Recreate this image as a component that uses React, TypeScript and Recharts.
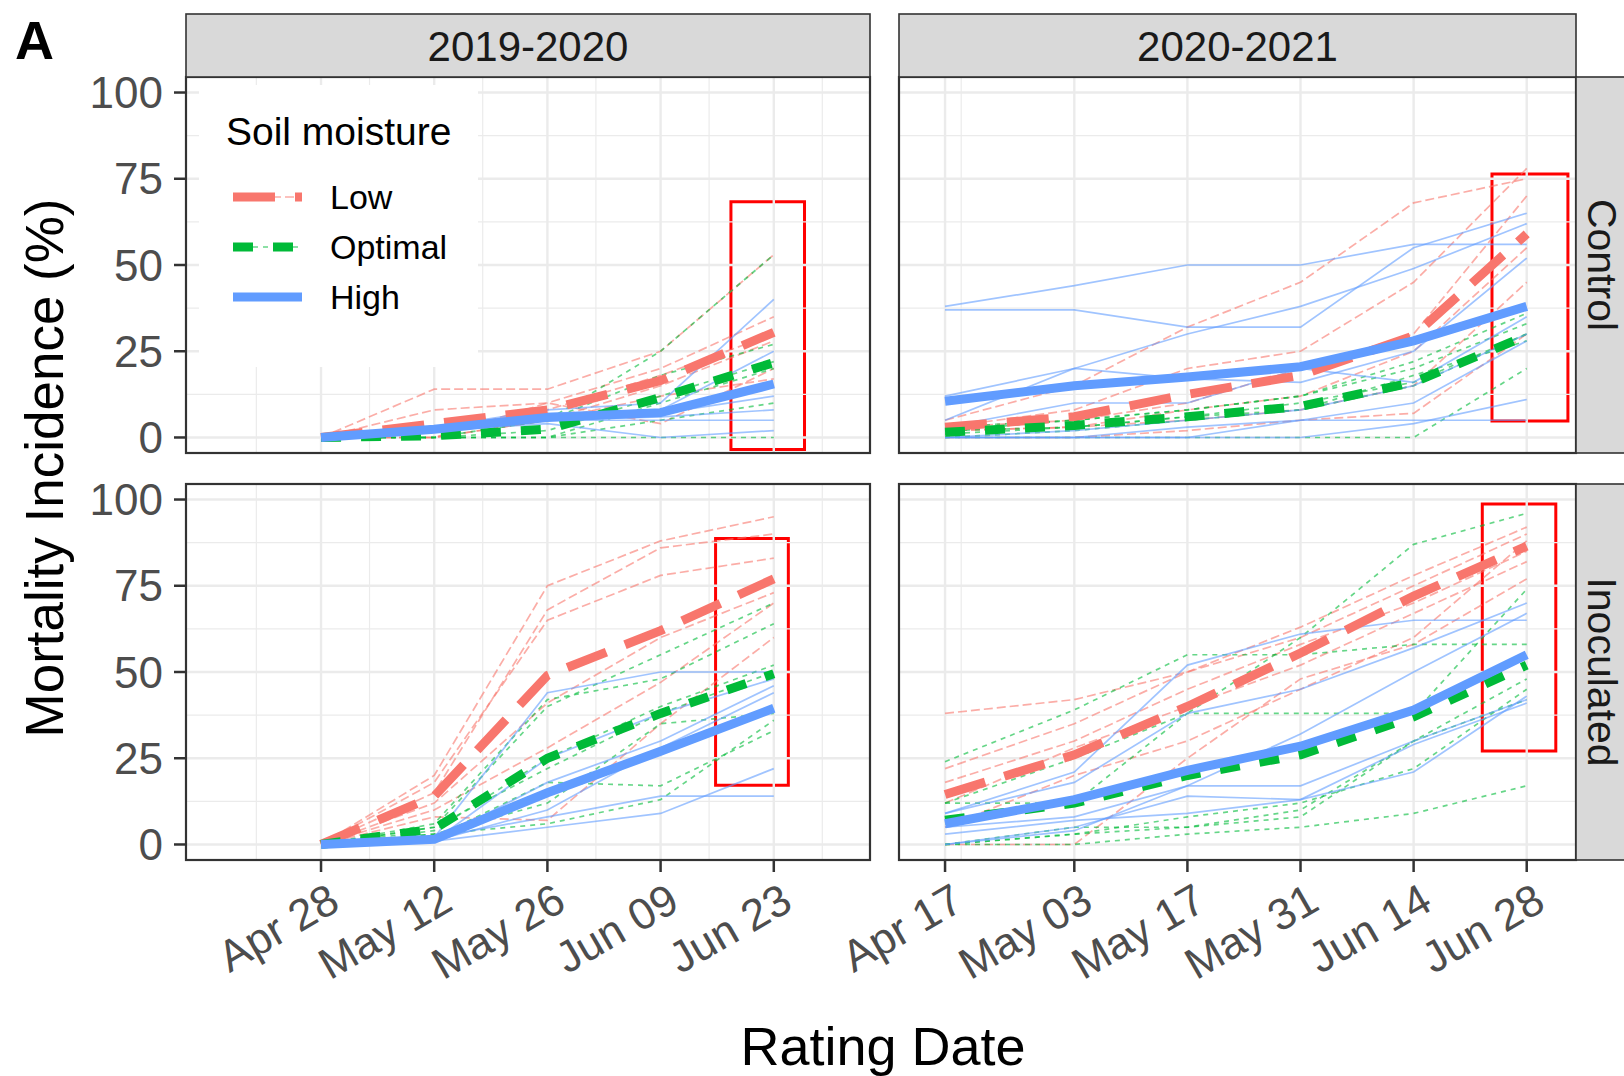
import React from 'react';
import { LineChart, Line, XAxis, YAxis, ReferenceLine, ReferenceArea } from 'recharts';

const FONT = '"Liberation Sans", Arial, Helvetica, sans-serif';

// rating dates, as days after the first rating of each season
const DAYS_1920 = [0, 14, 28, 42, 56];
const LABELS_1920 = ['Apr 28', 'May 12', 'May 26', 'Jun 09', 'Jun 23'];
const MINOR_1920 = [-8, 6, 20, 34, 48, 62];
const DAYS_2021 = [0, 16, 30, 44, 58, 72];
const LABELS_2021 = ['Apr 17', 'May 03', 'May 17', 'May 31', 'Jun 14', 'Jun 28'];
const MINOR_2021 = [2];

const SEASONS = ['2019-2020', '2020-2021'];
const TREATMENTS = ['Control', 'Inoculated'];
const MOISTURE = ['Low', 'Optimal', 'High'];
const Y_TICKS = [0, 25, 50, 75, 100];
const Y_MINOR = [12.5, 37.5, 62.5, 87.5];

// Control, 2019-2020 (one row per plot)
const C19_LOW = [
  [0, 14, 14, 25, 53],
  [0, 8, 10, 20, 35],
  [0, 2, 8, 18, 30],
  [0, 0, 5, 15, 28],
  [0, 0, 10, 4, 20],
  [0, 0, 5, 12, 17],
];
const C19_OPT = [
  [0, 0, 5, 25, 53],
  [0, 2, 5, 18, 27],
  [0, 0, 2, 12, 22],
  [0, 0, 0, 10, 20],
  [0, 0, 0, 5, 10],
  [0, 0, 0, 0, 0],
];
const C19_HIGH = [
  [0, 3, 8, 10, 40],
  [0, 3, 7, 8, 25],
  [0, 3, 6, 7, 12],
  [0, 2, 5, 6, 8],
  [0, 2, 5, 5, 5],
  [0, 2, 4, 0, 2],
];
const C19_MEAN_LOW = [0, 4, 8, 16.5, 30.5];
const C19_MEAN_OPT = [0, 0.5, 2.4, 11.6, 21.7];
const C19_MEAN_HIGH = [0, 2.4, 5.8, 7.2, 15.5];

// Control, 2020-2021
const C20_LOW = [
  [5, 15, 32, 45, 68, 75],
  [3, 8, 20, 25, 45, 78],
  [3, 5, 10, 20, 30, 70],
  [2, 3, 8, 12, 25, 55],
  [2, 3, 5, 8, 15, 45],
  [0, 0, 2, 5, 7, 30],
];
const C20_OPT = [
  [3, 5, 8, 12, 22, 36],
  [2, 5, 8, 12, 20, 33],
  [2, 3, 6, 10, 16, 30],
  [1, 3, 6, 8, 15, 30],
  [0, 2, 5, 8, 18, 28],
  [0, 0, 0, 0, 0, 20],
];
const C20_HIGH = [
  [38, 44, 50, 50, 56, 56],
  [37, 37, 32, 32, 55, 65],
  [12, 20, 30, 38, 49, 62],
  [5, 20, 17, 16, 25, 52],
  [3, 10, 10, 20, 16, 35],
  [0, 0, 0, 5, 5, 5],
  [0, 0, 0, 0, 4, 11],
  [0, 2, 5, 8, 15, 30],
  [0, 0, 3, 5, 10, 28],
];
const C20_MEAN_LOW = [3, 6, 12.5, 18, 29.5, 59];
const C20_MEAN_OPT = [1.5, 3.5, 6, 9, 16, 29.5];
const C20_MEAN_HIGH = [10.5, 15, 17.5, 20.5, 28, 38];

// Inoculated, 2019-2020
const I19_LOW = [
  [0, 20, 75, 88, 95],
  [0, 15, 68, 86, 90],
  [0, 18, 65, 78, 83],
  [0, 12, 41, 60, 73],
  [0, 10, 28, 47, 70],
  [0, 8, 7, 35, 60],
];
const I19_OPT = [
  [0, 5, 40, 55, 70],
  [0, 6, 42, 48, 64],
  [0, 4, 25, 40, 52],
  [0, 5, 22, 38, 50],
  [0, 3, 12, 35, 38],
  [0, 2, 18, 17, 33],
  [0, 3, 6, 13, 36],
];
const I19_HIGH = [
  [0, 2, 44, 50, 50],
  [0, 1, 25, 38, 48],
  [0, 1, 18, 30, 46],
  [0, 1, 10, 28, 44],
  [0, 2, 8, 14, 14],
  [0, 1, 5, 9, 22],
];
const I19_MEAN_LOW = [0, 14, 49, 62, 77];
const I19_MEAN_OPT = [0, 4.5, 25, 38, 49.5];
const I19_MEAN_HIGH = [0, 1.5, 15, 27, 39.5];

// Inoculated, 2020-2021
const I20_LOW = [
  [38, 42, 50, 60, 75, 90],
  [22, 35, 50, 63, 78, 92],
  [18, 30, 45, 58, 70, 85],
  [12, 28, 40, 52, 67, 82],
  [5, 20, 30, 45, 60, 88],
  [0, 0, 25, 48, 58, 77],
];
const I20_OPT = [
  [24, 39, 55, 55, 58, 58],
  [12, 25, 38, 60, 87, 96],
  [12, 12, 38, 38, 38, 74],
  [0, 5, 5, 8, 30, 48],
  [0, 3, 5, 10, 30, 42],
  [0, 0, 3, 5, 9, 17],
  [0, 3, 8, 12, 22, 45],
];
const I20_HIGH = [
  [9, 21, 52, 61, 65, 65],
  [9, 18, 38, 45, 57, 70],
  [0, 4, 17, 32, 50, 67],
  [5, 8, 17, 17, 30, 42],
  [0, 5, 14, 13, 21, 43],
  [3, 7, 9, 13, 29, 41],
];
const I20_MEAN_LOW = [14.5, 26, 40, 55.5, 72, 86.5];
const I20_MEAN_OPT = [7, 12, 20, 26, 37, 52];
const I20_MEAN_HIGH = [6, 13, 21.5, 28.5, 39, 55];

// highlighted final-rating windows: [day from, day to, % from, % to]
const BOX_C19 = [50.7, 59.8, -3.5, 68.3];
const BOX_C20 = [67.7, 77.1, 4.8, 76.4];
const BOX_I19 = [48.8, 57.8, 17.2, 88.7];
const BOX_I20 = [66.5, 75.6, 27.1, 98.7];

const STYLE: Record<string, { color: string; thick?: string; thin?: string }> = {
  low: { color: '#F8766D', thick: '42 20', thin: '9 4' },
  opt: { color: '#00BA38', thick: '20 20', thin: '5 5' },
  high: { color: '#619CFF' },
};

const GRID = '#EBEBEB';
const DARK = '#333333';
const TICK_FONT = 44;

// facet geometry
const COL_X = [186, 899];
const COL_W = [684, 677];
const ROW_Y = [77, 484];
const ROW_H = 376;
const STRIP_TOP = 14;
const PAD = 30; // room around each panel so tick labels are not clipped
const SIDE = 200; // room left of the right-hand panels for rotated labels
const X_AXIS_H = 150;
const Y_AXIS_W = 186;

const DateTick = ({ x, y, payload, days, labels }: any) => {
  const i = days.indexOf(payload.value);
  const ax = x + 5;
  return (
    <text
      x={ax}
      y={y}
      dy="0.72em"
      transform={`rotate(-30 ${ax} ${y})`}
      textAnchor="end"
      fill="#4D4D4D"
      fontSize={TICK_FONT}
      fontFamily={FONT}
    >
      {labels[i]}
    </text>
  );
};

interface PanelProps {
  col: number;
  row: number;
  days: number[];
  labels: string[];
  minor: number[];
  xDomain: number[];
  low: number[][];
  opt: number[][];
  high: number[][];
  meanLow: number[];
  meanOpt: number[];
  meanHigh: number[];
  box: number[];
}

const Panel = (p: PanelProps) => {
  const showY = p.col === 0;
  const showX = p.row === 1;
  const groups = [
    { key: 'low', reps: p.low, mean: p.meanLow },
    { key: 'opt', reps: p.opt, mean: p.meanOpt },
    { key: 'high', reps: p.high, mean: p.meanHigh },
  ];
  const rows = p.days.map((d, i) => {
    const r: Record<string, number> = { day: d };
    groups.forEach(g => {
      g.reps.forEach((s, j) => {
        r[g.key + j] = s[i];
      });
      r[g.key + 'Mean'] = g.mean[i];
    });
    return r;
  });

  const marginLeft = showY ? 0 : SIDE;
  const left = showY ? COL_X[0] - Y_AXIS_W : COL_X[1] - SIDE;
  const width = (showY ? Y_AXIS_W : SIDE) + COL_W[p.col] + PAD;
  const top = ROW_Y[p.row] - PAD;
  const height = PAD + ROW_H + (showX ? X_AXIS_H : PAD);

  return (
    <div style={{ position: 'absolute', left, top }}>
      <LineChart
        width={width}
        height={height}
        data={rows}
        margin={{ top: PAD, right: PAD, bottom: showX ? 0 : PAD, left: marginLeft }}
      >
        <XAxis
          type="number"
          dataKey="day"
          domain={p.xDomain}
          ticks={p.days}
          interval={0}
          allowDataOverflow
          hide={!showX}
          height={X_AXIS_H}
          axisLine={false}
          tickSize={12}
          tickMargin={9}
          tickLine={{ stroke: DARK, strokeWidth: 2.5 }}
          tick={(t: any) => <DateTick {...t} days={p.days} labels={p.labels} />}
        />
        <YAxis
          type="number"
          domain={[-4.5, 104.5]}
          ticks={Y_TICKS}
          interval={0}
          allowDataOverflow
          hide={!showY}
          width={Y_AXIS_W}
          axisLine={false}
          tickSize={12}
          tickMargin={11}
          tickLine={{ stroke: DARK, strokeWidth: 2.5 }}
          tick={{ fill: '#4D4D4D', fontSize: TICK_FONT, fontFamily: FONT }}
        />
        {Y_MINOR.map(v => <ReferenceLine key={'ym' + v} y={v} stroke={GRID} strokeWidth={1.2} />)}
        {p.minor.map(v => <ReferenceLine key={'xm' + v} x={v} stroke={GRID} strokeWidth={1.2} />)}
        {Y_TICKS.map(v => <ReferenceLine key={'y' + v} y={v} stroke={GRID} strokeWidth={2.4} />)}
        {p.days.map(v => <ReferenceLine key={'x' + v} x={v} stroke={GRID} strokeWidth={2.4} />)}

        {groups.map(g =>
          g.reps.map((_, j) => (
            <Line
              key={g.key + j}
              type="linear"
              dataKey={g.key + j}
              stroke={STYLE[g.key].color}
              strokeOpacity={0.6}
              strokeWidth={1.7}
              strokeDasharray={STYLE[g.key].thin}
              dot={false}
              activeDot={false}
              isAnimationActive={false}
            />
          ))
        )}
        {groups.map(g => (
          <Line
            key={g.key + 'Mean'}
            type="linear"
            dataKey={g.key + 'Mean'}
            stroke={STYLE[g.key].color}
            strokeWidth={9}
            strokeDasharray={STYLE[g.key].thick}
            dot={false}
            activeDot={false}
            isAnimationActive={false}
          />
        ))}

        <ReferenceArea
          x1={p.box[0]}
          x2={p.box[1]}
          y1={p.box[2]}
          y2={p.box[3]}
          fill="none"
          fillOpacity={0}
          stroke="#FF0000"
          strokeWidth={3}
          ifOverflow="visible"
        />
      </LineChart>
    </div>
  );
};

const LEGEND_KEYS = [
  { key: 'low', y: 197 },
  { key: 'opt', y: 247 },
  { key: 'high', y: 297 },
];

const PANELS: PanelProps[] = [
  {
    col: 0, row: 0,
    days: DAYS_1920, labels: LABELS_1920, minor: MINOR_1920, xDomain: [-16.7, 67.9],
    low: C19_LOW, opt: C19_OPT, high: C19_HIGH,
    meanLow: C19_MEAN_LOW, meanOpt: C19_MEAN_OPT, meanHigh: C19_MEAN_HIGH,
    box: BOX_C19,
  },
  {
    col: 1, row: 0,
    days: DAYS_2021, labels: LABELS_2021, minor: MINOR_2021, xDomain: [-5.7, 78.1],
    low: C20_LOW, opt: C20_OPT, high: C20_HIGH,
    meanLow: C20_MEAN_LOW, meanOpt: C20_MEAN_OPT, meanHigh: C20_MEAN_HIGH,
    box: BOX_C20,
  },
  {
    col: 0, row: 1,
    days: DAYS_1920, labels: LABELS_1920, minor: MINOR_1920, xDomain: [-16.7, 67.9],
    low: I19_LOW, opt: I19_OPT, high: I19_HIGH,
    meanLow: I19_MEAN_LOW, meanOpt: I19_MEAN_OPT, meanHigh: I19_MEAN_HIGH,
    box: BOX_I19,
  },
  {
    col: 1, row: 1,
    days: DAYS_2021, labels: LABELS_2021, minor: MINOR_2021, xDomain: [-5.7, 78.1],
    low: I20_LOW, opt: I20_OPT, high: I20_HIGH,
    meanLow: I20_MEAN_LOW, meanOpt: I20_MEAN_OPT, meanHigh: I20_MEAN_HIGH,
    box: BOX_I20,
  },
];

const App = () => {
  return (
    <div
      style={{
        position: 'absolute', left: 0, top: 0, width: 1624, height: 1076,
        overflow: 'hidden', background: '#fff', fontFamily: FONT,
      }}
    >
      {PANELS.map((p, i) => <Panel key={i} {...p} />)}

      <svg width={1624} height={1076} style={{ position: 'absolute', left: 0, top: 0, pointerEvents: 'none' }}>
        {/* panel borders */}
        {ROW_Y.map(ry =>
          COL_X.map((cx, ci) => (
            <rect key={`${ry}-${cx}`} x={cx} y={ry} width={COL_W[ci]} height={ROW_H} fill="none" stroke={DARK} strokeWidth={2.2} />
          ))
        )}

        {/* season strips */}
        {COL_X.map((cx, ci) => (
          <g key={'s' + ci}>
            <rect x={cx} y={STRIP_TOP} width={COL_W[ci]} height={ROW_Y[0] - STRIP_TOP} fill="#D9D9D9" stroke={DARK} strokeWidth={1.6} />
            <text x={cx + COL_W[ci] / 2} y={61} textAnchor="middle" fontSize={42} fill="#1A1A1A" fontFamily={FONT}>
              {SEASONS[ci]}
            </text>
          </g>
        ))}

        {/* treatment strips */}
        {ROW_Y.map((ry, ri) => (
          <g key={'t' + ri}>
            <rect x={COL_X[1] + COL_W[1]} y={ry} width={64} height={ROW_H} fill="#D9D9D9" stroke={DARK} strokeWidth={1.6} />
            <text
              transform={`translate(${COL_X[1] + COL_W[1] + 12}, ${ry + ROW_H / 2}) rotate(90)`}
              textAnchor="middle"
              fontSize={41}
              fill="#1A1A1A"
              fontFamily={FONT}
            >
              {TREATMENTS[ri]}
            </text>
          </g>
        ))}

        {/* legend */}
        <rect x={199} y={85} width={279} height={282} fill="#fff" />
        <text x={226} y={145} fontSize={39} fill="#000" fontFamily={FONT}>Soil moisture</text>
        {LEGEND_KEYS.map((k, i) => (
          <g key={k.key}>
            <line x1={233} x2={302} y1={k.y} y2={k.y} stroke={STYLE[k.key].color} strokeOpacity={0.6} strokeWidth={1.6} strokeDasharray={STYLE[k.key].thin} />
            <line x1={233} x2={302} y1={k.y} y2={k.y} stroke={STYLE[k.key].color} strokeWidth={9} strokeDasharray={STYLE[k.key].thick} />
            <text x={330} y={k.y + 12} fontSize={34} fill="#000" fontFamily={FONT}>{MOISTURE[i]}</text>
          </g>
        ))}

        {/* axis titles */}
        <text transform="translate(63, 468) rotate(-90)" textAnchor="middle" fontSize={53} fill="#000" fontFamily={FONT}>
          Mortality Incidence (%)
        </text>
        <text x={883} y={1065} textAnchor="middle" fontSize={54} fill="#000" fontFamily={FONT}>
          Rating Date
        </text>

        <text x={15} y={59} fontSize={54} fontWeight="bold" fill="#000" fontFamily={FONT}>A</text>
      </svg>
    </div>
  );
};

export default App;
